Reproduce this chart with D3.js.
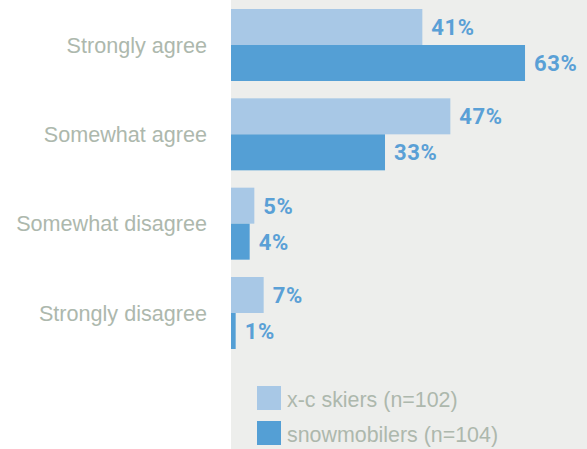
<!DOCTYPE html>
<html lang="en">
<head>
<meta charset="utf-8">
<title>Agreement by group</title>
<script src="https://cdn.jsdelivr.net/npm/d3@7"></script>
<style>
  body { margin: 0; background: #fff; }
  .cat { font-family: "Liberation Sans", Arial, sans-serif; font-size: 21.6px; fill: #adb8ad; text-anchor: end; }
  .val { font-family: Roboto, "Liberation Sans", sans-serif; font-size: 22px; font-weight: bold; fill: #5aa0d6; letter-spacing: 0.6px; }
  .leg { font-family: "Liberation Sans", Arial, sans-serif; font-size: 21.4px; fill: #adb8ad; }
</style>
</head>
<body>
<div id="chart"></div>
<script>
var categories = ["Strongly agree", "Somewhat agree", "Somewhat disagree", "Strongly disagree"];
var series = ["x-c skiers (n=102)", "snowmobilers (n=104)"];
var skiers = [41, 47, 5, 7];
var snowmobilers = [63, 33, 4, 1];
var colors = ["#a8c8e6", "#549fd5"];

var width = 587, height = 449,
    panelX = 231;

var svg = d3.select("#chart").append("svg")
    .attr("width", width)
    .attr("height", height);

// gray plot panel
svg.append("rect")
   .attr("x", panelX).attr("y", 0)
   .attr("width", width - panelX).attr("height", height)
   .attr("fill", "#edeeec");

var x = d3.scaleLinear().domain([0, 100]).range([panelX, panelX + 466.7]);

var y = d3.scaleBand()
    .domain(categories)
    .range([9, 349])
    .paddingInner(0.194)
    .paddingOuter(0);

var ySub = d3.scaleBand()
    .domain(series)
    .range([0, y.bandwidth()]);

var values = [skiers, snowmobilers];

var groups = svg.selectAll(".grp")
    .data(categories)
    .enter().append("g")
    .attr("class", "grp")
    .attr("transform", function(d) { return "translate(0," + y(d) + ")"; });

groups.append("text")
    .attr("class", "cat")
    .attr("x", 207)
    .attr("y", y.bandwidth() / 2)
    .attr("dy", "0.36em")
    .text(function(d) { return d; });

series.forEach(function(s, si) {
  groups.append("rect")
      .attr("x", x(0))
      .attr("y", ySub(s))
      .attr("width", function(d, i) { return x(values[si][i]) - x(0); })
      .attr("height", ySub.bandwidth())
      .attr("fill", colors[si]);

  groups.append("text")
      .attr("class", "val")
      .attr("x", function(d, i) { return x(values[si][i]) + 9; })
      .attr("y", ySub(s) + ySub.bandwidth() / 2)
      .attr("dy", "0.36em")
      .text(function(d, i) { return values[si][i] + "%"; });
});

// legend
var legend = svg.selectAll(".legend")
    .data(series)
    .enter().append("g")
    .attr("class", "legend")
    .attr("transform", function(d, i) { return "translate(257," + (386 + i * 35) + ")"; });

legend.append("rect")
    .attr("width", 24).attr("height", 24)
    .attr("fill", function(d, i) { return colors[i]; });

legend.append("text")
    .attr("class", "leg")
    .attr("x", 30)
    .attr("y", 21)
    .text(function(d) { return d; });
</script>
</body>
</html>
